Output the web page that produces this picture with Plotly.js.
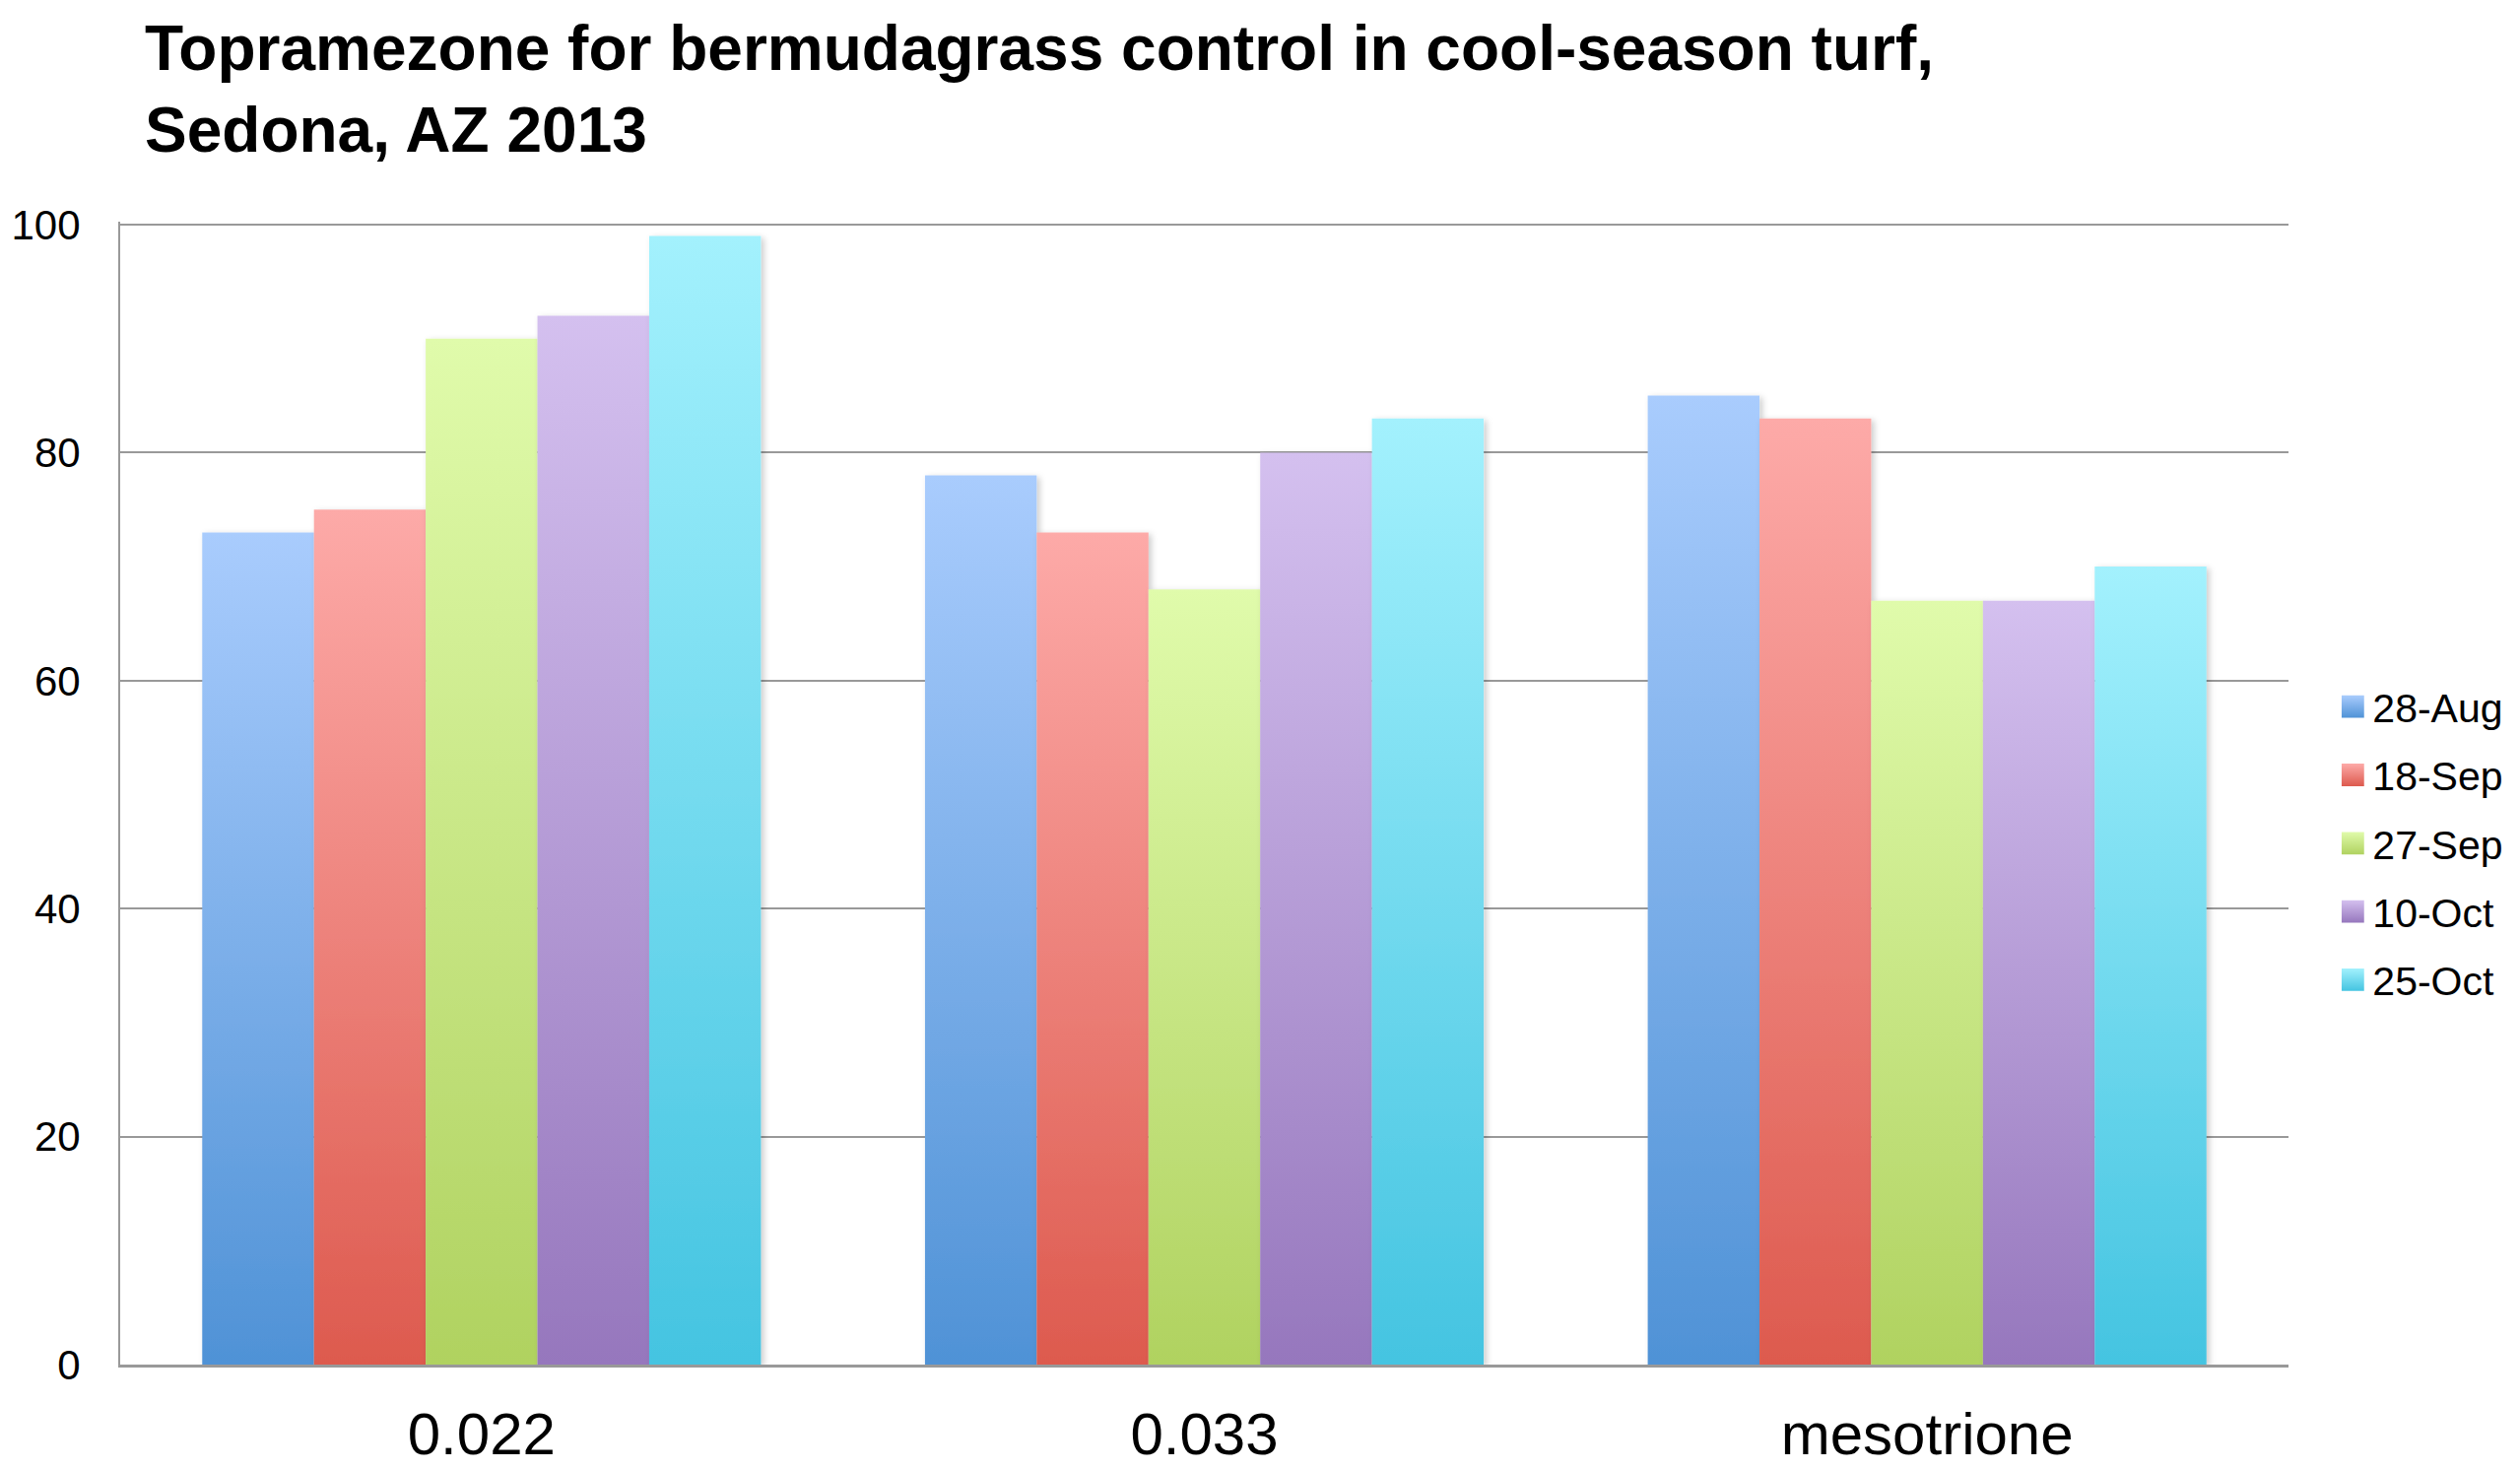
<!DOCTYPE html>
<html>
<head>
<meta charset="utf-8">
<script src="https://cdn.plot.ly/plotly-3.0.1.min.js"></script>
<style>
  html, body { margin: 0; padding: 0; background: #fff; }
  #chart { width: 2558px; height: 1492px; }
</style>
</head>
<body>
<svg id="gradsvg" width="0" height="0" style="position:absolute;left:0;top:0" xmlns="http://www.w3.org/2000/svg"><defs id="gradDefs"></defs></svg>
<div id="chart"></div>
<script>
// ---- data ----
const categories = ["0.022", "0.033", "mesotrione"];
const seriesNames = ["28-Aug", "18-Sep", "27-Sep", "10-Oct", "25-Oct"];
const aug28 = [73, 78, 85];
const sep18 = [75, 73, 83];
const sep27 = [90, 68, 67];
const oct10 = [92, 80, 67];
const oct25 = [99, 83, 70];
const yTicks = [0, 20, 40, 60, 80, 100];

// ---- styles (top colour, bottom colour) ----
const topColors = ["#a9ccfd", "#fdaaa8", "#e0fbab", "#d4c0ef", "#a3f1fd"];
const bottomColors = ["#4f92d6", "#dd5a4e", "#b0d260", "#9677bd", "#44c4e1"];

const seriesValues = [aug28, sep18, sep27, oct10, oct25];
const font = "Liberation Sans, Arial, Helvetica, sans-serif";

// build gradient + shadow definitions in a standalone svg
(function buildDefs() {
  const NS = "http://www.w3.org/2000/svg";
  const defs = document.getElementById("gradDefs");
  topColors.forEach((c, i) => {
    const lg = document.createElementNS(NS, "linearGradient");
    lg.setAttribute("id", "bargrad" + i);
    lg.setAttribute("x1", "0"); lg.setAttribute("y1", "0");
    lg.setAttribute("x2", "0"); lg.setAttribute("y2", "1");
    const s1 = document.createElementNS(NS, "stop");
    s1.setAttribute("offset", "0"); s1.setAttribute("stop-color", c);
    const s2 = document.createElementNS(NS, "stop");
    s2.setAttribute("offset", "1"); s2.setAttribute("stop-color", bottomColors[i]);
    lg.appendChild(s1); lg.appendChild(s2);
    defs.appendChild(lg);
  });
  const f = document.createElementNS(NS, "filter");
  f.setAttribute("id", "barshadow");
  f.setAttribute("x", "-20%"); f.setAttribute("y", "-5%");
  f.setAttribute("width", "140%"); f.setAttribute("height", "110%");
  const ds = document.createElementNS(NS, "feDropShadow");
  ds.setAttribute("dx", "3"); ds.setAttribute("dy", "2");
  ds.setAttribute("stdDeviation", "3");
  ds.setAttribute("flood-color", "#000");
  ds.setAttribute("flood-opacity", "0.2");
  f.appendChild(ds);
  defs.appendChild(f);
})();

const traces = seriesValues.map((vals, i) => ({
  type: "bar",
  name: seriesNames[i],
  x: categories,
  y: vals,
  legendgroup: "g" + i,
  marker: { color: bottomColors[i], line: { width: 0 } },
  hoverinfo: "x+y+name"
}));

const layout = {
  width: 2558,
  height: 1492,
  paper_bgcolor: "#ffffff",
  plot_bgcolor: "#ffffff",
  margin: { l: 122, r: 233, t: 225, b: 107 },
  font: { family: font, color: "#000" },
  title: {
    text: "<b>Topramezone for bermudagrass control in cool-season turf,<br>Sedona, AZ 2013</b>",
    font: { family: font, size: 64, color: "#000" },
    x: 147 / 2558, xref: "container", xanchor: "left",
    y: 1 - 71 / 1492, yref: "container", yanchor: "top"
  },
  barmode: "group",
  bargap: 0.227,
  bargroupgap: 0,
  showlegend: true,
  legend: {
    x: 1.0206, xanchor: "left",
    y: 0.456, yanchor: "middle",
    font: { family: font, size: 41, color: "#000" },
    tracegroupgap: 13,
    bgcolor: "rgba(0,0,0,0)"
  },
  xaxis: {
    type: "category",
    showgrid: false,
    showline: true,
    linecolor: "#999999",
    linewidth: 3,
    ticks: "",
    tickfont: { family: font, size: 60, color: "#000" },
    ticklabelstandoff: 16,
    zeroline: false
  },
  yaxis: {
    range: [0, 100.26],
    tickvals: yTicks,
    ticktext: yTicks.map(String),
    showgrid: true,
    gridcolor: "#999999",
    gridwidth: 2,
    showline: true,
    linecolor: "#999999",
    linewidth: 2,
    ticks: "",
    tickfont: { family: font, size: 42, color: "#000" },
    ticklabelstandoff: 30,
    zeroline: false
  }
};

const gd = document.getElementById("chart");

function decorate() {
  const barTraces = gd.querySelectorAll("g.barlayer g.trace");
  barTraces.forEach((t, i) => {
    t.setAttribute("filter", "url(#barshadow)");
    t.querySelectorAll("path").forEach(p => {
      p.setAttribute("fill", "url(#bargrad" + i + ")");
      p.style.setProperty("fill", "url(#bargrad" + i + ")", "important");
    });
  });
  const legItems = gd.querySelectorAll("g.legend g.traces");
  legItems.forEach((it, i) => {
    it.querySelectorAll(".legendpoints path").forEach(p => {
      p.setAttribute("fill", "url(#bargrad" + i + ")");
      p.style.setProperty("fill", "url(#bargrad" + i + ")", "important");
      const tr = p.getAttribute("transform") || "";
      if (tr.indexOf("scale") < 0) p.setAttribute("transform", (tr + " scale(1.9)").trim());
    });
  });
}

Plotly.newPlot(gd, traces, layout, { staticPlot: true, displayModeBar: false });
decorate();
Promise.resolve().then(decorate);
setTimeout(decorate, 0);
setTimeout(decorate, 200);
gd.on && gd.on("plotly_afterplot", decorate);
</script>
</body>
</html>
